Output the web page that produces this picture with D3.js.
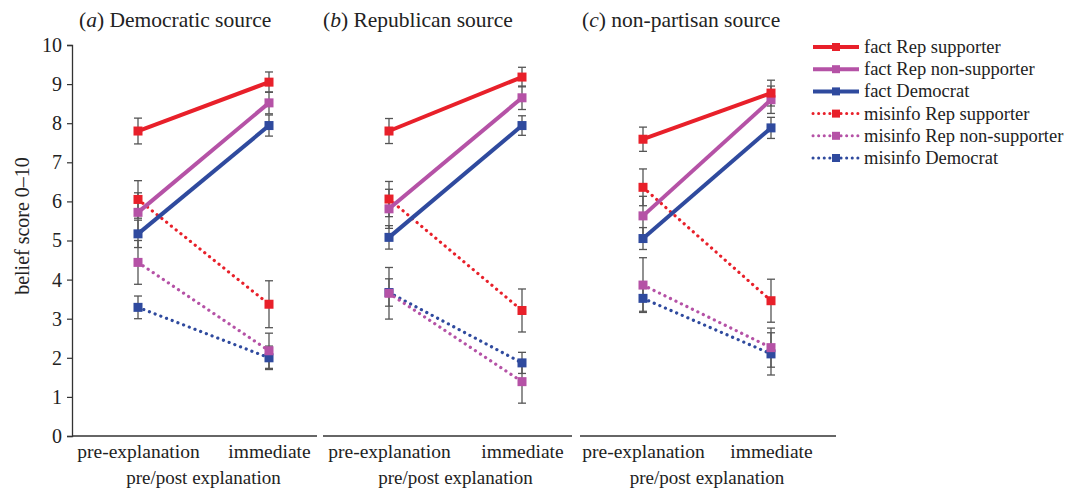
<!DOCTYPE html>
<html><head><meta charset="utf-8">
<script src="https://cdn.jsdelivr.net/npm/d3@7"></script>
<style>body{margin:0;background:#fff}svg{display:block}</style>
</head><body><svg id="c" width="1067" height="490" font-family="Liberation Serif"></svg>
<script>
const seriesNames = ["fact Rep supporter","fact Rep non-supporter","fact Democrat","misinfo Rep supporter","misinfo Rep non-supporter","misinfo Democrat"];
const seriesColors = ["#e8202a","#b552a6","#2f4a9e","#e8202a","#b552a6","#2f4a9e"];
const seriesDotted = [false,false,false,true,true,true];
const categories = ["pre-explanation","immediate"];
const panelTitles = [["a"," Democratic source"],["b"," Republican source"],["c"," non-partisan source"]];
const yTicks = [0,1,2,3,4,5,6,7,8,9,10];
// values: [pre, immediate] per series
const valuesA = [[7.80,9.05],[5.72,8.52],[5.17,7.94],[6.05,3.37],[4.44,2.18],[3.29,2.00]];
const errA    = [[0.33,0.26],[0.50,0.28],[0.35,0.27],[0.48,0.60],[0.56,0.45],[0.29,0.30]];
const valuesB = [[7.80,9.18],[5.81,8.65],[5.08,7.94],[6.06,3.21],[3.65,1.39],[3.67,1.87]];
const errB    = [[0.32,0.25],[0.50,0.30],[0.30,0.25],[0.45,0.55],[0.66,0.55],[0.35,0.27]];
const valuesC = [[7.59,8.77],[5.63,8.60],[5.05,7.88],[6.36,3.46],[3.86,2.26],[3.52,2.10]];
const errC    = [[0.31,0.33],[0.50,0.35],[0.28,0.27],[0.47,0.55],[0.70,0.50],[0.33,0.54]];
const panelValues = [valuesA, valuesB, valuesC];
const panelErrs = [errA, errB, errC];

const FONT = "Liberation Serif";
const TXT = "#222";
const svg = d3.select("#c");
const y = d3.scaleLinear().domain([0,10]).range([436,45]);
const panels = [
  {x0:72, x1:317, p:[138,269]},
  {x0:323, x1:572, p:[389,522]},
  {x0:580, x1:836, p:[643,771]}
];

// y axis
const ya = svg.append("g").attr("transform","translate(72,0)")
  .call(d3.axisLeft(y).tickValues(yTicks).tickSize(5).tickPadding(5));
ya.attr("font-family",FONT);
ya.select(".domain").attr("stroke","#333").attr("stroke-width",1.3);
ya.selectAll(".tick line").attr("stroke","#333").attr("stroke-width",1.2);
ya.selectAll(".tick text").attr("font-size",20).attr("font-family",FONT).attr("fill",TXT);
svg.append("text").attr("transform","translate(29,226) rotate(-90)").attr("text-anchor","middle")
  .attr("font-family",FONT).attr("fill",TXT).attr("font-size",20).text("belief score 0–10");

panels.forEach((pn,pi)=>{
  const x = d3.scalePoint().domain(categories).range(pn.p);
  const g = svg.append("g");
  g.append("line").attr("x1",pn.x0).attr("x2",pn.x1).attr("y1",y(0)).attr("y2",y(0)).attr("stroke","#333").attr("stroke-width",1.5);
  const xa = g.append("g").attr("transform",`translate(0,${y(0)})`).call(d3.axisBottom(x).tickSize(0).tickPadding(0));
  xa.attr("font-family",FONT);
  xa.select(".domain").remove();
  xa.selectAll(".tick text").attr("font-size",19.5).attr("font-family",FONT).attr("fill",TXT).attr("dy",null).attr("y",22);
  g.append("text").attr("x",(pn.p[0]+pn.p[1])/2).attr("y",484).attr("text-anchor","middle")
    .attr("font-family",FONT).attr("fill",TXT).attr("font-size",19).text("pre/post explanation");
  const t = g.append("text").attr("x",pn.x0+(pi==0?7:0)+(pi==2?2:0)).attr("y",27)
    .attr("font-family",FONT).attr("fill",TXT).attr("font-size",21.5);
  t.append("tspan").text("(");
  t.append("tspan").attr("font-style","italic").text(panelTitles[pi][0]);
  t.append("tspan").text(")"+panelTitles[pi][1]);

  const vals = panelValues[pi], errs = panelErrs[pi];
  vals.forEach((sv,si)=>{
    sv.forEach((v,ci)=>{
      const cx = x(categories[ci]), e = errs[si][ci];
      const eb = g.append("g").attr("stroke","#555").attr("stroke-width",1.3);
      eb.append("line").attr("x1",cx).attr("x2",cx).attr("y1",y(v-e)).attr("y2",y(v+e));
      eb.append("line").attr("x1",cx-4).attr("x2",cx+4).attr("y1",y(v-e)).attr("y2",y(v-e));
      eb.append("line").attr("x1",cx-4).attr("x2",cx+4).attr("y1",y(v+e)).attr("y2",y(v+e));
    });
  });
  const line = d3.line().x((d,i)=>x(categories[i])).y(d=>y(d));
  const order = [5,4,3,2,1,0];
  order.forEach(si=>{
    const sv = vals[si];
    const p = g.append("path").attr("d",line(sv)).attr("fill","none").attr("stroke",seriesColors[si]);
    if(seriesDotted[si]) p.attr("stroke-width",3.2).attr("stroke-dasharray","0.1 6").attr("stroke-linecap","round");
    else p.attr("stroke-width",4);
    sv.forEach((v,ci)=>{
      g.append("rect").attr("x",x(categories[ci])-4.5).attr("y",y(v)-4.5).attr("width",9).attr("height",9).attr("fill",seriesColors[si]);
    });
  });
});

// legend
const lg = svg.append("g").attr("transform","translate(813,47)");
seriesNames.forEach((n,i)=>{
  const r = lg.append("g").attr("transform",`translate(0,${i*22.2})`);
  const l = r.append("line").attr("x1",0).attr("x2",46).attr("y1",0).attr("y2",0).attr("stroke",seriesColors[i]);
  if(seriesDotted[i]) l.attr("stroke-width",3).attr("stroke-dasharray","0.1 5.5").attr("stroke-linecap","round");
  else l.attr("stroke-width",4);
  r.append("rect").attr("x",19).attr("y",-4).attr("width",8).attr("height",8).attr("fill",seriesColors[i]);
  r.append("text").attr("x",51).attr("y",6).attr("font-family",FONT).attr("fill",TXT).attr("font-size",18.5).text(n);
});
</script></body></html>
